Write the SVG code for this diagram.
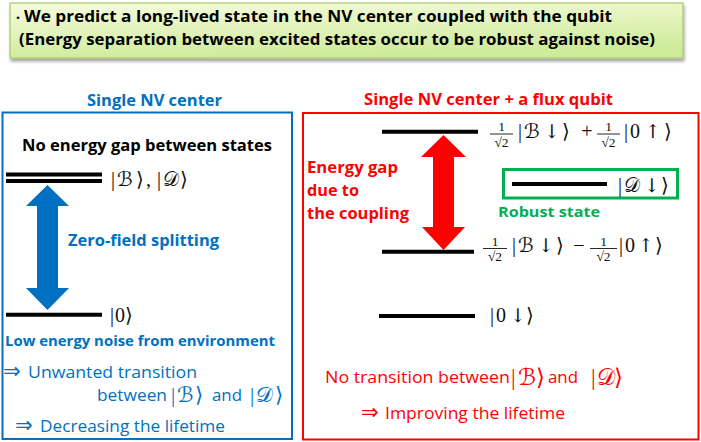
<svg xmlns="http://www.w3.org/2000/svg" width="701" height="442" viewBox="0 0 701 442">
<defs>
<linearGradient id="gTop" x1="0" y1="0" x2="0.3" y2="1">
<stop offset="0" stop-color="#f7fbdc"/>
<stop offset="1" stop-color="#cfeb9c"/>
</linearGradient>
<filter id="sh" x="-5%" y="-20%" width="110%" height="150%">
<feGaussianBlur in="SourceAlpha" stdDeviation="1.5"/>
<feOffset dx="1" dy="3"/>
<feComponentTransfer><feFuncA type="linear" slope="0.35"/></feComponentTransfer>
<feMerge><feMergeNode/><feMergeNode in="SourceGraphic"/></feMerge>
</filter>
</defs>
<style>
.s{font-family:"Open Sans","Liberation Sans",sans-serif}
.b{font-weight:bold}
.m{font-family:"Liberation Serif","DejaVu Serif","DejaVu Sans",serif;fill:#111}
.ar{font-family:"DejaVu Serif","DejaVu Sans",serif}
.dbl{font-family:"DejaVu Sans",sans-serif;font-size:21px}
.lvl{stroke:#000;stroke-width:4}
.bar{stroke:#111;stroke-width:0.9}
.blue{fill:#0070c0}
.red{fill:#ff0000}
.green{fill:#00b050}
</style>

<g id="header">
<rect x="10" y="3" width="673" height="55" fill="url(#gTop)" stroke="#a9c96b" stroke-width="1.2" filter="url(#sh)"/>
<text class="s b" y="22" font-size="16" fill="#000"><tspan x="13" font-family="Noto Sans CJK JP,sans-serif" font-size="10">・</tspan><tspan x="24" textLength="588" lengthAdjust="spacingAndGlyphs">We predict a long-lived state in the NV center coupled with the qubit</tspan></text>
<text class="s b" x="19" y="45" font-size="16" fill="#000" textLength="636" lengthAdjust="spacingAndGlyphs">(Energy separation between excited states occur to be robust against noise)</text>
</g>

<g id="left-panel">
<text class="s b blue" x="87" y="106" font-size="15.5" textLength="135" lengthAdjust="spacingAndGlyphs">Single NV center</text>
<rect x="2.5" y="112.5" width="289.5" height="326.5" fill="none" stroke="#0070c0" stroke-width="2"/>
<text class="s b" x="22" y="151" font-size="16" fill="#000" textLength="250" lengthAdjust="spacingAndGlyphs">No energy gap between states</text>
</g>

<g id="state-BD">
<line class="lvl" x1="6" y1="174.5" x2="102" y2="174.5" stroke-width="3.5"/>
<line class="lvl" x1="6" y1="181" x2="102" y2="181" stroke-width="3.5"/>
<text class="m" y="186" font-size="20"><tspan x="111">|</tspan><tspan x="117">ℬ</tspan><tspan x="136">⟩</tspan><tspan x="146">,</tspan><tspan x="157">|</tspan><tspan x="163">𝒟</tspan><tspan x="180">⟩</tspan></text>
</g>

<g id="state-0">
<line class="lvl" x1="6" y1="314.7" x2="102" y2="314.7"/>
<text class="m" y="322" font-size="20"><tspan x="110">|</tspan><tspan x="115">0</tspan><tspan x="125">⟩</tspan></text>
</g>

<g id="zfs-label">
<text class="s b blue" x="68" y="246" font-size="16" textLength="151" lengthAdjust="spacingAndGlyphs">Zero-field splitting</text>
</g>

<g id="left-notes">
<text class="s b blue" x="5" y="346" font-size="13.5" textLength="270" lengthAdjust="spacingAndGlyphs">Low energy noise from environment</text>
<text class="s blue" y="378" font-size="17"><tspan x="3" class="dbl">⇒</tspan><tspan x="28" textLength="169" lengthAdjust="spacingAndGlyphs">Unwanted transition</tspan></text>
<text class="s blue" x="97" y="401" font-size="17" textLength="70" lengthAdjust="spacingAndGlyphs">between</text>
<text class="m" y="402" font-size="21" style="fill:#0070c0"><tspan x="171">|</tspan><tspan x="177">ℬ</tspan><tspan x="195">⟩</tspan></text>
<text class="s blue" x="212" y="401" font-size="17" textLength="30" lengthAdjust="spacingAndGlyphs">and</text>
<text class="m" y="402" font-size="21" style="fill:#0070c0"><tspan x="250">|</tspan><tspan x="256">𝒟</tspan><tspan x="275">⟩</tspan></text>
<text class="s blue" y="432" font-size="17"><tspan x="15" class="dbl">⇒</tspan><tspan x="40" textLength="185" lengthAdjust="spacingAndGlyphs">Decreasing the lifetime</tspan></text>
</g>

<g id="right-panel">
<text class="s b red" x="364" y="105" font-size="15.5" textLength="249" lengthAdjust="spacingAndGlyphs">Single NV center + a flux qubit</text>
<rect x="303" y="113" width="395.5" height="326.5" fill="none" stroke="#ff0000" stroke-width="2"/>
</g>

<g id="state-plus">
<line class="lvl" x1="382" y1="131.7" x2="478" y2="131.7"/>
<text class="m" x="501.5" y="130.5" font-size="13.5" text-anchor="middle">1</text>
<line class="bar" x1="490" y1="134" x2="513" y2="134"/>
<text class="m" x="501.5" y="146.5" font-size="13.5" text-anchor="middle">√2</text>
<text class="m" y="138" font-size="20"><tspan x="518">|</tspan><tspan x="524">ℬ</tspan><tspan x="544" class="ar" font-size="19">↓</tspan><tspan x="562">⟩</tspan></text>
<text class="m" x="587" y="138" font-size="20" text-anchor="middle">+</text>
<text class="m" x="608.5" y="130.5" font-size="13.5" text-anchor="middle">1</text>
<line class="bar" x1="597" y1="134" x2="620" y2="134"/>
<text class="m" x="608.5" y="146.5" font-size="13.5" text-anchor="middle">√2</text>
<text class="m" y="138" font-size="20"><tspan x="624">|</tspan><tspan x="630">0</tspan><tspan x="645" class="ar" font-size="19">↑</tspan><tspan x="664">⟩</tspan></text>
</g>

<g id="state-D-down">
<rect x="503.5" y="169.5" width="174" height="28.5" fill="none" stroke="#00b050" stroke-width="3"/>
<line class="lvl" x1="512" y1="184" x2="607" y2="184"/>
<text class="m" y="192" font-size="20"><tspan x="618">|</tspan><tspan x="624">𝒟</tspan><tspan x="644" class="ar" font-size="19">↓</tspan><tspan x="661">⟩</tspan></text>
<text class="s b green" x="498" y="217" font-size="15" textLength="102" lengthAdjust="spacingAndGlyphs">Robust state</text>
</g>

<g id="state-minus">
<line class="lvl" x1="382" y1="251.7" x2="474" y2="251.7"/>
<text class="m" x="495" y="245.5" font-size="13.5" text-anchor="middle">1</text>
<line class="bar" x1="483" y1="248.5" x2="507" y2="248.5"/>
<text class="m" x="495" y="260.5" font-size="13.5" text-anchor="middle">√2</text>
<text class="m" y="252" font-size="20"><tspan x="512">|</tspan><tspan x="518">ℬ</tspan><tspan x="538" class="ar" font-size="19">↓</tspan><tspan x="556">⟩</tspan></text>
<text class="m" x="579" y="252" font-size="20" text-anchor="middle">−</text>
<text class="m" x="603.5" y="245.5" font-size="13.5" text-anchor="middle">1</text>
<line class="bar" x1="590" y1="248.5" x2="617" y2="248.5"/>
<text class="m" x="603.5" y="260.5" font-size="13.5" text-anchor="middle">√2</text>
<text class="m" y="252" font-size="20"><tspan x="619">|</tspan><tspan x="625">0</tspan><tspan x="638" class="ar" font-size="19">↑</tspan><tspan x="655">⟩</tspan></text>
</g>

<g id="state-0-down">
<line class="lvl" x1="379" y1="316" x2="475" y2="316"/>
<text class="m" y="322" font-size="20"><tspan x="490">|</tspan><tspan x="496">0</tspan><tspan x="510" class="ar" font-size="19">↓</tspan><tspan x="526">⟩</tspan></text>
</g>

<g id="gap-label">
<text class="s b red" x="307" y="173" font-size="16.5" textLength="91" lengthAdjust="spacingAndGlyphs">Energy gap</text>
<text class="s b red" x="307" y="196" font-size="16.5" textLength="52" lengthAdjust="spacingAndGlyphs">due to</text>
<text class="s b red" x="307" y="219" font-size="16.5" textLength="102" lengthAdjust="spacingAndGlyphs">the coupling</text>
</g>

<g id="right-notes">
<text class="s red" x="325" y="383" font-size="17" textLength="185" lengthAdjust="spacingAndGlyphs">No transition between</text>
<text class="m" y="385" font-size="23" style="fill:#ff0000"><tspan x="511">|</tspan><tspan x="518">ℬ</tspan><tspan x="536">⟩</tspan></text>
<text class="s red" x="548" y="383" font-size="17" textLength="30" lengthAdjust="spacingAndGlyphs">and</text>
<text class="m" y="385" font-size="23" style="fill:#ff0000"><tspan x="591">|</tspan><tspan x="597">𝒟</tspan><tspan x="614">⟩</tspan></text>
<text class="s red" y="419" font-size="17"><tspan x="361" class="dbl">⇒</tspan><tspan x="385" textLength="180" lengthAdjust="spacingAndGlyphs">Improving the lifetime</tspan></text>
</g>

<g id="connectors">
<path d="M47.5,185 L69,206 L58,206 L58,288 L69,288 L47.5,310 L26,288 L37,288 L37,206 L26,206 Z" fill="#0070c0"/>
<path d="M443.5,135 L466,157 L454,157 L454,227 L465,227 L443.5,250 L422,227 L433,227 L433,157 L421,157 Z" fill="#ff0000"/>
</g>
</svg>
